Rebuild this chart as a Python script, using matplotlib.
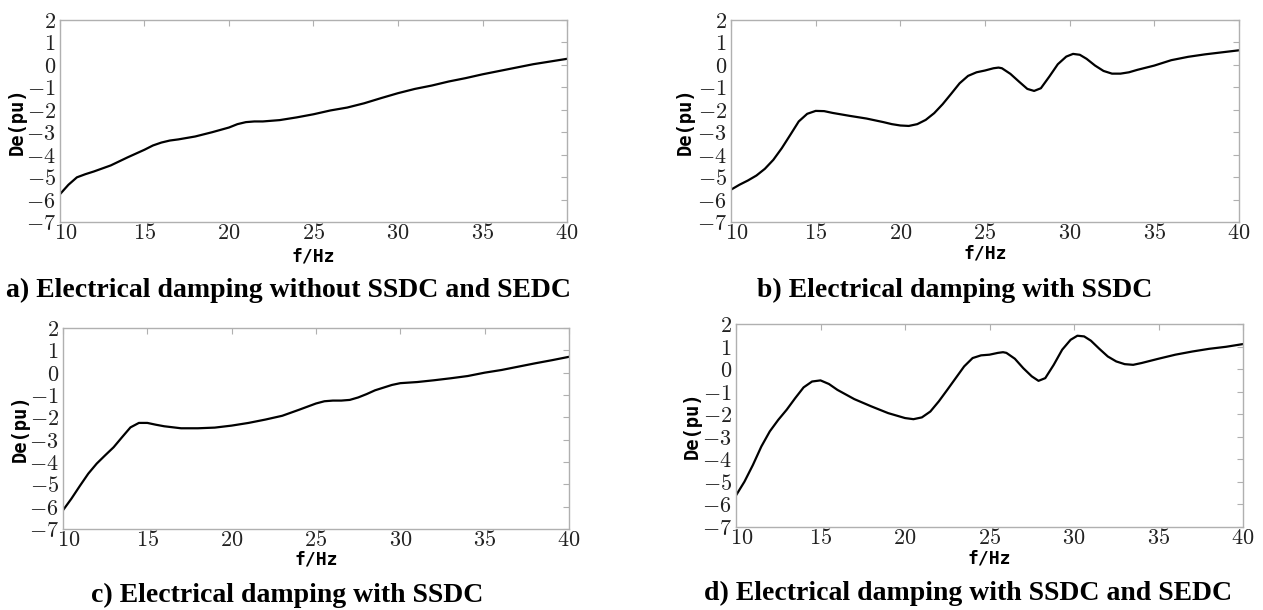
import matplotlib
matplotlib.use('Agg')
import matplotlib.pyplot as plt
import matplotlib.ticker as mtick
import matplotlib.transforms as mtrans

plt.rcParams['mathtext.fontset'] = 'cm'

# a) without SSDC and SEDC
f_a = [10, 10.5, 11, 11.5, 12, 13, 14, 15, 15.5, 16, 16.5, 17, 18, 19, 20, 20.5, 21, 21.5,
       22, 23, 24, 25, 26, 27, 28, 29, 30, 31, 32, 33, 34, 35, 36, 37, 38, 39, 40]
de_a = [-5.76, -5.34, -5.01, -4.87, -4.75, -4.48, -4.12, -3.78, -3.59, -3.46, -3.37, -3.32,
        -3.19, -3.0, -2.79, -2.64, -2.55, -2.52, -2.52, -2.46, -2.34, -2.2, -2.03, -1.9,
        -1.71, -1.48, -1.26, -1.07, -0.92, -0.74, -0.59, -0.42, -0.27, -0.12, 0.03, 0.15,
        0.27]

# b) with SSDC
f_b = [10, 10.5, 11, 11.5, 12, 12.5, 13, 13.5, 14, 14.5, 15, 15.5, 16, 17, 18, 19, 19.5,
       20, 20.5, 21, 21.5, 22, 22.5, 23, 23.5, 24, 24.5, 25, 25.5, 25.8, 26, 26.5, 27, 27.5,
       27.9, 28.3, 28.8, 29.3, 29.8, 30.2, 30.6, 31, 31.5, 32, 32.5, 33, 33.5, 34, 35, 36,
       37, 38, 39, 40]
de_b = [-5.56, -5.34, -5.15, -4.93, -4.63, -4.23, -3.71, -3.12, -2.52, -2.18, -2.05, -2.06,
        -2.14, -2.27, -2.39, -2.55, -2.64, -2.7, -2.72, -2.64, -2.45, -2.15, -1.75, -1.29,
        -0.82, -0.49, -0.33, -0.25, -0.15, -0.12, -0.15, -0.4, -0.74, -1.07, -1.16, -1.04,
        -0.52, 0.03, 0.37, 0.49, 0.45, 0.27, -0.03, -0.27, -0.39, -0.39, -0.33, -0.22,
        -0.03, 0.21, 0.36, 0.47, 0.56, 0.65]

# c) with SSDC
f_c = [10, 10.5, 11, 11.5, 12, 12.5, 13, 13.5, 14, 14.5, 15, 15.5, 16, 17, 18, 19, 20, 21,
       22, 23, 24, 25, 25.5, 26, 26.5, 27, 27.5, 28, 28.5, 29, 29.5, 30, 31, 32, 33, 34, 35,
       36, 37, 38, 39, 40]
de_c = [-6.16, -5.64, -5.07, -4.52, -4.07, -3.7, -3.34, -2.89, -2.45, -2.25, -2.25, -2.33,
        -2.4, -2.49, -2.49, -2.46, -2.37, -2.25, -2.1, -1.93, -1.66, -1.38, -1.28, -1.25,
        -1.25, -1.22, -1.11, -0.96, -0.79, -0.67, -0.55, -0.47, -0.42, -0.34, -0.25, -0.15,
        0.0, 0.12, 0.27, 0.42, 0.56, 0.71]

# d) with SSDC and SEDC
f_d = [10, 10.5, 11, 11.5, 12, 12.5, 13, 13.5, 14, 14.5, 15, 15.5, 16, 17, 18, 19, 20, 20.5,
       21, 21.5, 22, 22.5, 23, 23.5, 24, 24.5, 25, 25.5, 25.8, 26, 26.5, 27, 27.5, 27.9,
       28.3, 28.8, 29.3, 29.8, 30.2, 30.6, 31, 31.5, 32, 32.5, 33, 33.5, 34, 35, 36, 37, 38,
       39, 40]
de_d = [-5.6, -4.99, -4.25, -3.43, -2.76, -2.25, -1.8, -1.29, -0.81, -0.55, -0.5, -0.66,
        -0.92, -1.33, -1.65, -1.95, -2.17, -2.22, -2.14, -1.88, -1.43, -0.92, -0.4, 0.12,
        0.49, 0.61, 0.64, 0.72, 0.75, 0.72, 0.46, 0.04, -0.32, -0.52, -0.4, 0.19, 0.86, 1.3,
        1.48, 1.45, 1.26, 0.9, 0.56, 0.34, 0.22, 0.19, 0.27, 0.46, 0.64, 0.78, 0.9, 0.99,
        1.11]

x_ticks = [10, 15, 20, 25, 30, 35, 40]
y_ticks = [2, 1, 0, -1, -2, -3, -4, -5, -6, -7]

captions = ['a) Electrical damping without SSDC and SEDC',
            'b) Electrical damping with SSDC',
            'c) Electrical damping with SSDC',
            'd) Electrical damping with SSDC and SEDC']

W, H = 1263, 610
fig = plt.figure(figsize=(W / 100, H / 100), dpi=100)

# pixel boxes: left, top, right, bottom
boxes = [(60, 20, 567, 222), (731, 20, 1239, 222), (63, 328, 569, 529), (736, 324, 1243, 527)]
xlab_y = [-0.125, -0.11, -0.105, -0.11]
ylab_x = [-0.065, -0.071, -0.065, -0.067]
cap_pos = [(289, 297), (955, 297), (287, 602), (968, 600)]
data = [(f_a, de_a), (f_b, de_b), (f_c, de_c), (f_d, de_d)]

spine_col = '#b0b0b0'
for i, (box, (fx, dy)) in enumerate(zip(boxes, data)):
    l, t, r, b = box
    ax = fig.add_axes([l / W, 1 - b / H, (r - l) / W, (b - t) / H])
    ax.plot(fx, dy, color='black', lw=1.6, solid_joinstyle='round')
    ax.set_xlim(10, 40)
    ax.set_ylim(-7, 2)
    ax.set_xticks(x_ticks)
    ax.set_yticks(y_ticks)
    fmt = mtick.FuncFormatter(lambda v, p: '$%d$' % round(v))
    ax.xaxis.set_major_formatter(fmt)
    ax.yaxis.set_major_formatter(fmt)
    ax.tick_params(direction='in', top=True, right=True, left=False, bottom=False,
                   length=4, width=0.8, color=spine_col, labelsize=16,
                   labelcolor='#222222')
    ax.tick_params(axis='x', pad=1)
    ax.tick_params(axis='y', pad=3)
    for s in ax.spines.values():
        s.set_color(spine_col)
        s.set_linewidth(1.0)
    # first x label sits a bit to the right of its tick
    first = ax.get_xticklabels()[0]
    first.set_transform(first.get_transform() +
                        mtrans.ScaledTranslation(6 / 100, 0, fig.dpi_scale_trans))
    ax.set_xlabel('f/Hz', fontsize=13, fontweight='bold', family='DejaVu Sans Mono')
    ax.set_ylabel('De(pu)', fontsize=13.5, fontweight='bold', family='DejaVu Sans Mono')
    ax.xaxis.set_label_coords(0.5, xlab_y[i])
    ax.yaxis.set_label_coords(ylab_x[i], 0.5)
    cx, cy = cap_pos[i]
    fig.text(cx / W, 1 - cy / H, captions[i], ha='center', va='baseline',
             fontsize=20, fontweight='bold', family='Liberation Serif')

fig.savefig('out.png', dpi=100)
